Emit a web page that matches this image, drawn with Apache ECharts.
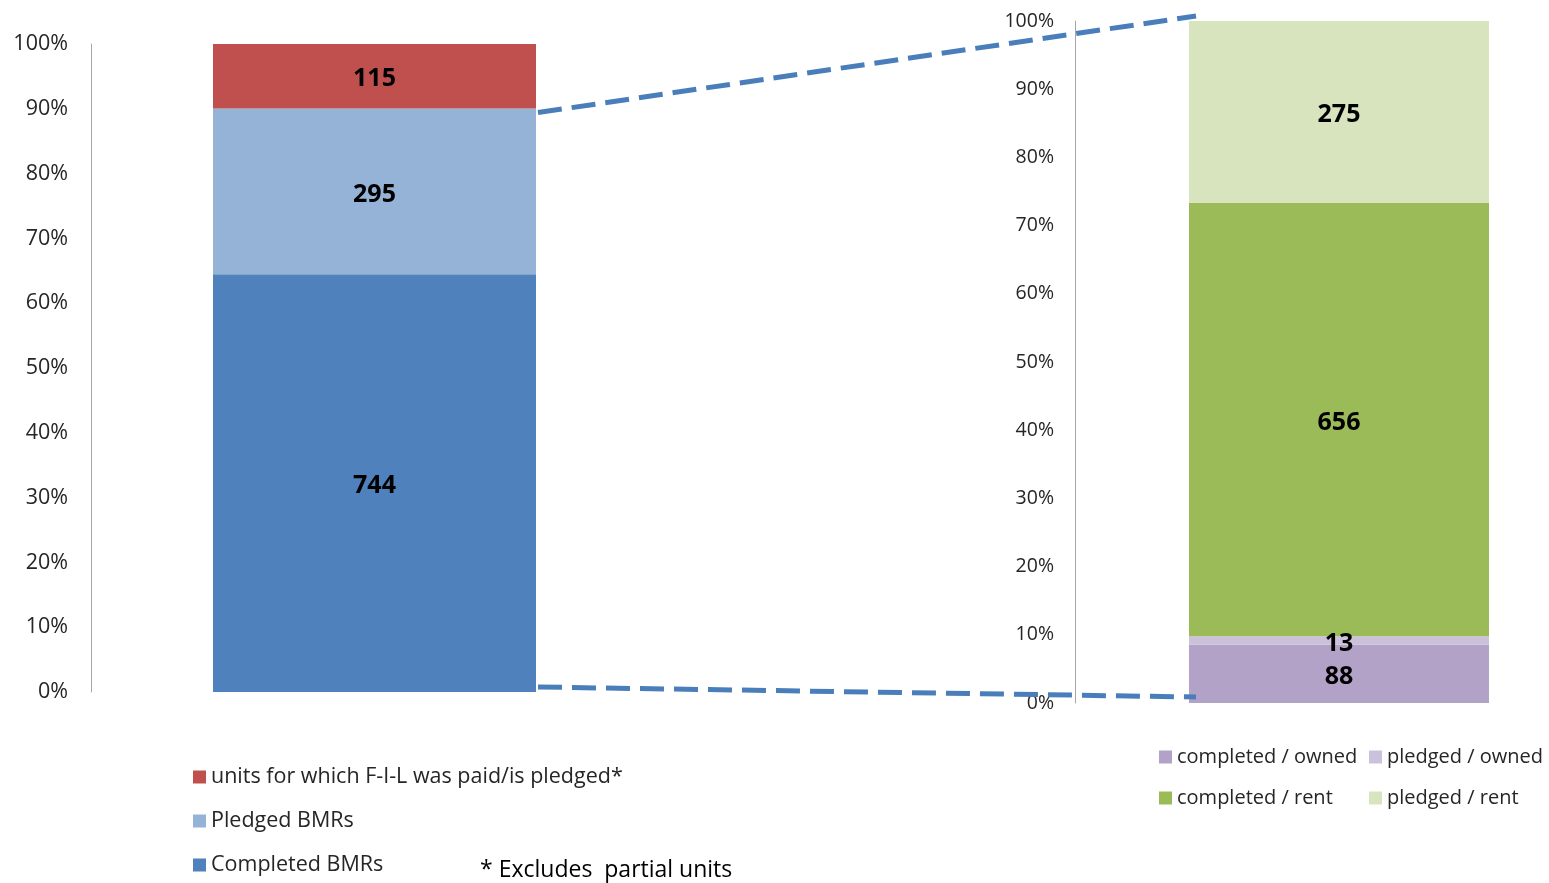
<!DOCTYPE html>
<html>
<head>
<meta charset="utf-8">
<script src="https://cdn.jsdelivr.net/npm/echarts@6/dist/echarts.min.js"></script>
<style>html,body{margin:0;padding:0;background:#fff;}#c{width:1549px;height:883px;}</style>
</head>
<body>
<div id="c"></div>
<script>
// ---- data ----
const leftCategories = ['BMR units'];
const completedBMRs = [744];
const pledgedBMRs = [295];
const filUnits = [115];
const leftNames = ['units for which F-I-L was paid/is pledged*', 'Pledged BMRs', 'Completed BMRs'];

const rightCategories = ['Breakdown'];
const completedOwned = [88];
const pledgedOwned = [13];
const completedRent = [656];
const pledgedRent = [275];
const rightNames = ['completed / owned', 'pledged / owned', 'completed / rent', 'pledged / rent'];

const footnote = '* Excludes  partial units';

// ---- helpers ----
const FONT = '"Open Sans", "Noto Sans", sans-serif';
function pct(arrs) {
  const tot = arrs.reduce((s, a) => s + a[0], 0);
  return arrs.map(a => a[0] / tot * 100);
}
const leftPct = pct([completedBMRs, pledgedBMRs, filUnits]);
const rightPct = pct([completedOwned, pledgedOwned, completedRent, pledgedRent]);

const labelStyle = {show: true, position: 'inside', offset: [0, 3], color: '#000', fontFamily: FONT, fontWeight: 'bold', fontSize: 25};

function bar(name, xi, pctVal, raw, color, stack, bw) {
  return {
    name, type: 'bar', xAxisIndex: xi, yAxisIndex: xi, stack, barWidth: bw,
    data: [{value: pctVal, raw: raw[0]}],
    itemStyle: {color},
    label: Object.assign({}, labelStyle, {formatter: p => String(p.data.raw)}),
    emphasis: {disabled: true}
  };
}

const chart = echarts.init(document.getElementById('c'));
const yAxisCommon = {
  type: 'value', min: 0, max: 100, interval: 10,
  axisLine: {show: true, lineStyle: {color: '#A6A6A6', width: 1}},
  axisTick: {show: false},
  splitLine: {show: false},
};
const legendText = {color: '#262626', fontFamily: FONT, fontSize: 20, lineHeight: 24};
const legendTextL = {color: '#262626', fontFamily: FONT, fontSize: 21.5, lineHeight: 24};
chart.setOption({
  animation: false,
  grid: [
    {left: 91, top: 44, width: 567, height: 648},
    {left: 1129, top: 21, width: 420, height: 682}
  ],
  xAxis: [
    {type: 'category', gridIndex: 0, data: leftCategories, axisLine: {show: false}, axisTick: {show: false}, axisLabel: {show: false}},
    {type: 'category', gridIndex: 1, data: rightCategories, axisLine: {show: false}, axisTick: {show: false}, axisLabel: {show: false}}
  ],
  yAxis: [
    Object.assign({}, yAxisCommon, {gridIndex: 0, axisLabel: {formatter: '{value}%', margin: 23, color: '#262626', fontFamily: FONT, fontSize: 21.5}}),
    Object.assign({}, yAxisCommon, {gridIndex: 1, offset: 54, axisLabel: {formatter: '{value}%', margin: 21, color: '#262626', fontFamily: FONT, fontSize: 19.5}})
  ],
  legend: [
    {orient: 'vertical', left: 193, top: 765, padding: 0, itemWidth: 13, itemHeight: 13, itemGap: 20, icon: 'rect',
     data: leftNames, selectedMode: false, textStyle: legendTextL},
    {orient: 'vertical', left: 1159, top: 745, padding: 0, itemWidth: 13, itemHeight: 13, itemGap: 17, icon: 'rect',
     data: [rightNames[0], rightNames[2]], selectedMode: false, textStyle: legendText},
    {orient: 'vertical', left: 1369, top: 745, padding: 0, itemWidth: 13, itemHeight: 13, itemGap: 17, icon: 'rect',
     data: [rightNames[1], rightNames[3]], selectedMode: false, textStyle: legendText}
  ],
  series: [
    bar(leftNames[2], 0, leftPct[0], completedBMRs, '#4F81BD', 'L', 323),
    bar(leftNames[1], 0, leftPct[1], pledgedBMRs, '#95B3D7', 'L', 323),
    bar(leftNames[0], 0, leftPct[2], filUnits, '#C0504D', 'L', 323),
    bar(rightNames[0], 1, rightPct[0], completedOwned, '#B3A2C7', 'R', 300),
    bar(rightNames[1], 1, rightPct[1], pledgedOwned, '#CCC1DA', 'R', 300),
    bar(rightNames[2], 1, rightPct[2], completedRent, '#9BBB59', 'R', 300),
    bar(rightNames[3], 1, rightPct[3], pledgedRent, '#D7E4BD', 'R', 300)
  ]
});

// connector dashed lines computed from the axes
const lTop = chart.convertToPixel({xAxisIndex: 0, yAxisIndex: 0}, [0, leftPct[0] + leftPct[1]]);
const lBot = chart.convertToPixel({xAxisIndex: 0, yAxisIndex: 0}, [0, 0]);
const rTop = chart.convertToPixel({xAxisIndex: 1, yAxisIndex: 1}, [0, 100]);
const rBot = chart.convertToPixel({xAxisIndex: 1, yAxisIndex: 1}, [0, 0]);
const lx = lTop[0] + 323 / 2 + 2;
const rx = rTop[0] - 300 / 2 + 7;
const dashStyle = {stroke: '#4A7EBB', lineWidth: 5, lineDash: [24, 10]};
chart.setOption({
  graphic: [
    {type: 'line', z: 100, shape: {x1: lx, y1: lTop[1] + 4, x2: rx, y2: rTop[1] - 5}, style: dashStyle},
    {type: 'line', z: 100, shape: {x1: lx, y1: lBot[1] - 5, x2: rx, y2: rBot[1] - 6}, style: dashStyle},
    {type: 'text', left: 480, top: 859, z: 100, style: {text: footnote, fill: '#000', font: '23px ' + FONT}}
  ]
});
</script>
</body>
</html>
